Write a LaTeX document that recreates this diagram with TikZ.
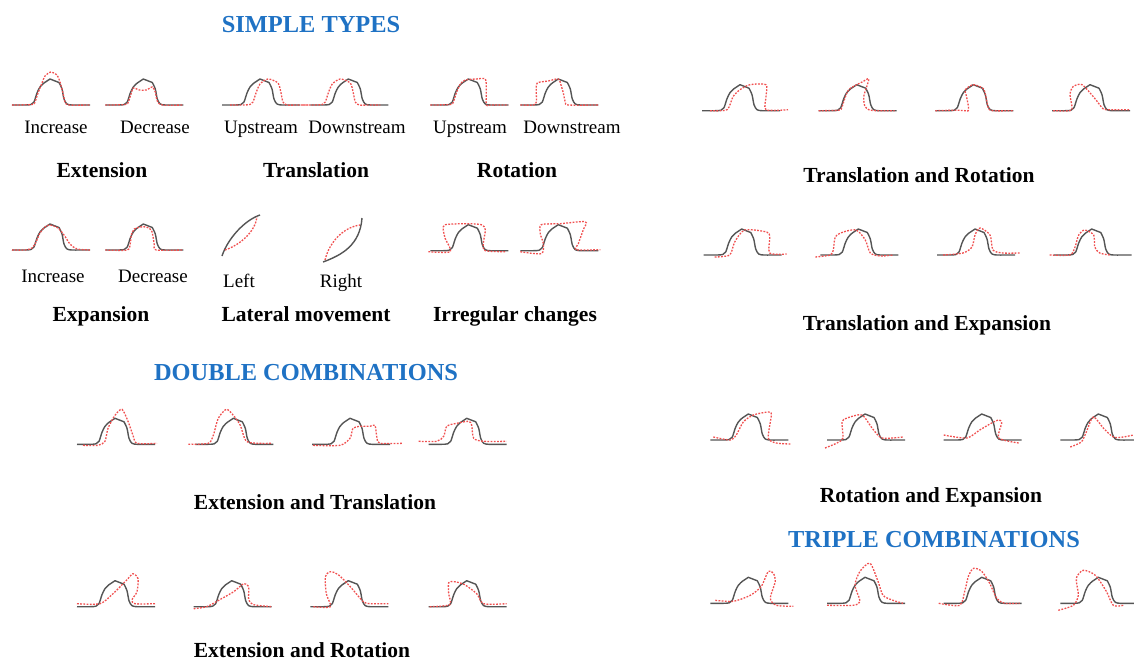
\documentclass[tikz,border=0pt]{standalone}
\usepackage{fontspec}
\setmainfont{Liberation Serif}
\definecolor{headblue}{RGB}{31,114,196}
\definecolor{curvegray}{RGB}{85,85,85}
\definecolor{curvered}{RGB}{240,80,80}
\tikzset{
  blk/.style={draw=curvegray,line width=1.4pt,line join=round},
  rdash/.style={draw=curvered,line width=1.3pt,dash pattern=on 1.8pt off 1.4pt},
  head/.style={anchor=base,text=headblue,font=\fontsize{24.4}{27}\selectfont\bfseries},
  lab/.style={anchor=base,font=\fontsize{21.5}{25}\selectfont\bfseries},
  sub/.style={anchor=base,font=\fontsize{19}{22}\selectfont},
}
\newcommand\glyph[3]{%
  \begin{scope}[shift={(#1,#2)},yscale=-1]
    \draw[blk] plot[smooth,tension=0.5] coordinates {(-38,0)(-25,0)(-19,0.5)(-16,3)(-13,12)(-10,18)(-6,22)} -- (0,26) -- (9,22.5) -- plot[smooth,tension=0.5] coordinates {(9,22.5)(12,16)(14,6)(17,1)(22,0)(30,0)(40,0)};
    \draw[rdash] plot[smooth,tension=0.45] coordinates {#3};
  \end{scope}}
\begin{document}
\begin{tikzpicture}[x=1pt,y=-1pt]
\useasboundingbox (0,0) rectangle (1134,661);
% headings
\node[head] (h1) at (311,33) {SIMPLE TYPES};
\node[head] (h2) at (306,380) {DOUBLE COMBINATIONS};
\node[head] (h3) at (934,547) {TRIPLE COMBINATIONS};
% ---------- simple types row 1
\glyph{50}{105}{(-38,0)(-18,0.5)(-15,3)(-12,12)(-8,22)(-5,29)(1,33)(7,30)(10,23)(13,12)(15,3)(19,0)(40,0)}
\glyph{143.3}{105}{(-38,0)(-18,0.5)(-15,3)(-12,12)(-10,17)(-4,15)(3,15)(9,18)(12,13)(14,4)(19,0)(40,0)}
\glyph{260}{105}{(-30,0)(-17,0)(-10,0.5)(-7,3)(-4,12)(0,21)(8,26)(18,22)(21,12)(23,3)(27,0)(38,0)(48,0)}
\glyph{348.3}{105}{(-46,0)(-33,0)(-26,0.5)(-23,3)(-20,12)(-16,21)(-8,26)(2,22)(5,12)(7,3)(11,0)(22,0)(32,0)}
\glyph{468.3}{105}{(-38,0)(-18,0.5)(-15,3)(-12,12)(-8,21)(-3,25)(8,26)(17,26)(18,15)(18,0)(22,0)(40,0)}
\glyph{558.3}{105}{(-38,0)(-25,0)(-22,3)(-22,14)(-21,22)(-10,24)(0,26)(3,19)(5,12)(7,3)(10,0)(40,0)}
\node[sub] (t1) at (56,133) {Increase};
\node[sub] (t2) at (155,133) {Decrease};
\node[sub] (t3) at (261,133) {Upstream};
\node[sub] (t4) at (357,133) {Downstream};
\node[sub] (t5) at (470,133) {Upstream};
\node[sub] (t6) at (572,133) {Downstream};
\node[lab] (l1) at (102,177) {Extension};
\node[lab] (l2) at (316,177) {Translation};
\node[lab] (l3) at (517,177) {Rotation};
% ---------- simple types row 2
\glyph{50}{250}{(-38,0)(-25,0)(-18,2)(-14,8)(-10,17)(-5,23)(0,25)(8,22)(14,15)(20,6)(27,1)(40,0)}
\glyph{143.3}{250}{(-38,0)(-16,0)(-13,7)(-12,15)(-9,21)(-3,23)(3,23)(8,20)(10,12)(11,5)(13,0)(40,0)}
\glyph{468.3}{250.7}{(-40,-1)(-18,-1)(-23,12)(-25,21)(-23,26)(-2,27)(13,26)(17,21)(15,7)(17,0)(38,-1)}
\glyph{558.3}{250.7}{(-38,-1)(-17,-3)(-15,7)(-18,17)(-17,26)(2,27)(27,29)(25,21)(20,7)(18,1)(42,1)}
% lateral movement
\draw[blk] (222,256) .. controls (228,238) and (245,220) .. (260,215);
\draw[rdash] (225,250) .. controls (240,245) and (255,232) .. (257,217);
\draw[blk] (323,262) .. controls (342,255) and (360,245) .. (362,218);
\draw[rdash] (325,260) .. controls (330,240) and (345,227) .. (360,225);
\node[sub] (t7) at (53,282) {Increase};
\node[sub] (t8) at (153,282) {Decrease};
\node[sub] (t9) at (239,287) {Left};
\node[sub] (t10) at (341,287) {Right};
\node[lab] (l4) at (101,321) {Expansion};
\node[lab] (l5) at (306,321) {Lateral movement};
\node[lab] (l6) at (515,321) {Irregular changes};
% ---------- Extension and Translation
\glyph{115}{444.3}{(-32,-1)(-17,-1)(-10,3)(-7,16)(0,29)(7,35)(13,23)(18,9)(22,1)(42,1)}
\glyph{233.3}{444.3}{(-45,0)(-25,1)(-20,9)(-15,26)(-7,35)(0,29)(7,19)(13,3)(27,1)(38,1)}
\glyph{350}{444.3}{(-37,-1)(-10,-1)(0,6)(3,16)(10,18)(20,18)(25,19)(27,6)(30,1)(53,1)}
\glyph{466.7}{444.3}{(-48,3)(-30,3)(-23,8)(-20,18)(-10,21)(2,23)(5,19)(7,6)(17,3)(40,3)}
\node[lab] (l7) at (315,509) {Extension and Translation};
% ---------- Extension and Rotation
\glyph{115}{606.7}{(-38,3)(-15,3)(-2,13)(12,27)(18,33)(23,28)(22,15)(17,7)(20,3)(40,3)}
\glyph{231.7}{606.7}{(-38,-2)(-25,0)(-12,7)(2,15)(12,23)(17,20)(17,7)(22,2)(40,0)}
\glyph{348.3}{606.7}{(-35,0)(-18,0)(-22,13)(-23,30)(-18,35)(-10,32)(2,20)(15,5)(22,3)(40,3)}
\glyph{466.7}{606.7}{(-37,0)(-17,2)(-18,13)(-18,24)(-12,25)(-2,22)(10,13)(17,3)(40,3)}
\node[lab] (l8) at (302,657) {Extension and Rotation};
% ---------- Translation and Rotation
\glyph{740}{110.7}{(-30,0)(-13,1)(-7,14)(0,21)(10,26)(26,26)(26,14)(26,1)(48,1)}
\glyph{856.7}{110.7}{(-38,0)(-18,0.5)(-15,3)(-12,12)(-8,21)(0,26)(6,29)(12,32)(10,24)(7,14)(8,5)(12,1)(20,0)(38,0)}
\glyph{973.3}{110.7}{(-38,0)(-18,0.5)(-8,0)(-5,0)(-5,5)(-7,15)(-8,21)(0,26)(10,22)(13,12)(15,3)(19,0)(40,0)}
\glyph{1090}{110.7}{(-37,0)(-20,0)(-18,4)(-20,16)(-17,24)(-8,26)(5,12)(13,2)(20,1)(40,1)}
\node[lab] (l9) at (919,182) {Translation and Rotation};
% ---------- Translation and Expansion
\glyph{741.7}{255}{(-27,-2)(-12,0)(-7,13)(3,25)(25,23)(28,18)(28,2)(45,1)}
\glyph{858.3}{255}{(-43,-2)(-28,0)(-25,5)(-23,18)(-15,23)(-2,25)(7,15)(12,2)(22,-1)(35,0)}
\glyph{975}{255}{(-32,0)(-12,2)(-3,8)(0,20)(5,27)(15,20)(18,5)(28,2)(45,2)}
\glyph{1091.7}{255}{(-42,0)(-22,0)(-17,7)(-13,20)(-7,25)(2,20)(3,8)(8,2)(18,0)}
\node[lab] (l10) at (927,330) {Translation and Expansion};
% ---------- Rotation and Expansion
\glyph{748.3}{440}{(-35,3)(-18,0)(-12,5)(-5,18)(5,25)(20,28)(23,25)(20,2)(28,-3)(42,-4)}
\glyph{865}{440}{(-40,-8)(-28,-3)(-22,2)(-23,18)(-18,22)(-3,25)(7,12)(17,2)(38,3)}
\glyph{981.7}{440}{(-38,5)(-15,2)(-2,10)(10,17)(17,20)(20,17)(17,2)(37,-3)}
\glyph{1098.3}{440}{(-28,-7)(-17,-2)(-12,8)(-5,23)(5,12)(15,3)(25,3)(35,5)}
\node[lab] (l11) at (931,502) {Rotation and Expansion};
% ---------- Triple combinations
\glyph{748.3}{603.3}{(-33,3)(-15,2)(2,8)(13,17)(20,32)(25,30)(27,22)(22,5)(28,-2)(45,-3)}
\glyph{865}{603.3}{(-38,-2)(-12,-2)(-5,2)(-10,18)(-5,32)(5,40)(13,22)(18,8)(28,3)(38,0)}
\glyph{981.7}{603.3}{(-43,0)(-22,-2)(-17,12)(-13,28)(-8,35)(0,32)(8,20)(15,5)(23,0)(38,0)}
\glyph{1098.3}{603.3}{(-40,-7)(-25,-2)(-20,8)(-22,25)(-15,33)(-3,28)(8,12)(15,-2)(25,-2)}
\end{tikzpicture}
\end{document}
